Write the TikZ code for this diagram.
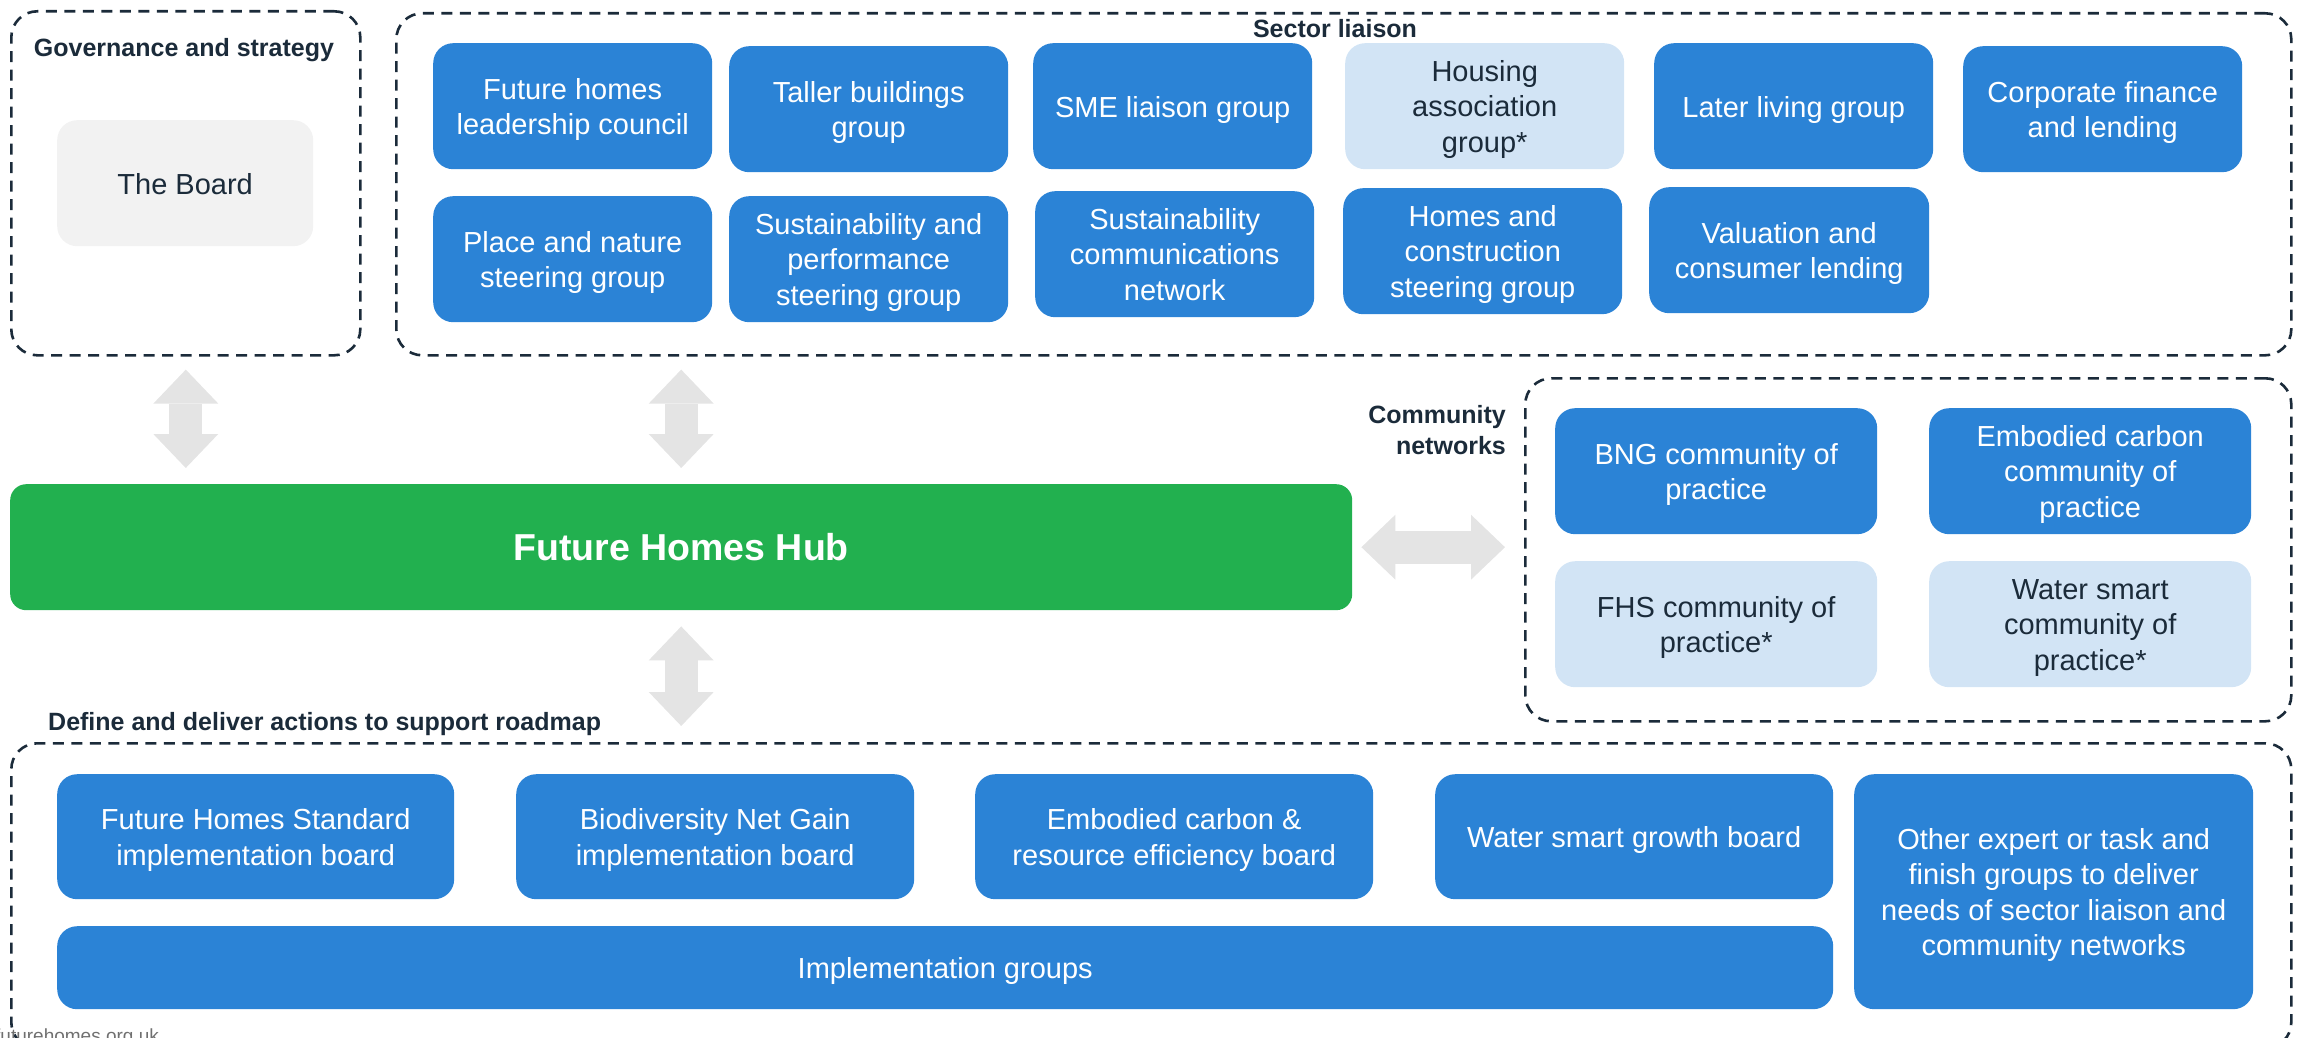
\documentclass[tikz,border=0pt]{standalone}
\usepackage{fontspec}
\setmainfont{Liberation Sans}
\usetikzlibrary{arrows.meta,calc}
\definecolor{fhblue}{HTML}{2B83D6}
\definecolor{fhlight}{HTML}{D2E4F5}
\definecolor{fhgreen}{HTML}{22B04F}
\definecolor{fhdark}{HTML}{1B2B3A}
\definecolor{fhgrey}{HTML}{F2F2F2}
\definecolor{fharrow}{HTML}{E4E4E4}
\definecolor{fhurl}{HTML}{707070}
% invisible strut that sets the height of the first text line
\newcommand\fhup{\rule{0pt}{28.5pt}}
\begin{document}
\begin{tikzpicture}[x=1pt,y=-1pt,
 grp/.style={draw=fhdark, line width=2.6pt, dash pattern=on 11pt off 7.5pt, rounded corners=26pt, anchor=north west, inner sep=0pt},
 card/.style={fill=fhblue, text=white, rounded corners=20pt, anchor=north west, inner sep=0pt, align=center, font=\fontsize{29}{35.5}\selectfont, minimum width=279pt, minimum height=126pt,
   execute at begin node={\rule{0pt}{29.5pt}}, execute at end node={\rule[-7pt]{0pt}{7pt}}},
 lcard/.style={card, fill=fhlight, text=fhdark},
 ccard/.style={card, minimum width=322pt},
 lccard/.style={lcard, minimum width=322pt},
 dcard/.style={card, minimum width=398pt, minimum height=125pt},
 ttl/.style={font=\bfseries\fontsize{25}{31}\selectfont, text=fhdark, inner sep=0pt},
 bigarrow/.style={draw=fharrow, line width=33pt, {Triangle[length=34pt,width=65pt,line width=0pt]}-{Triangle[length=34pt,width=65pt,line width=0pt]}}
]
\useasboundingbox (0,0) rectangle (2303,1038);

% group frames
\node[grp, minimum width=349pt, minimum height=344pt] (gov) at (10,10) {};
\node[grp, minimum width=1895pt, minimum height=342pt] (sector) at (395,12) {};
\node[grp, minimum width=766pt, minimum height=343pt] (comm) at (1524,377) {};
\node[grp, minimum width=2280pt, minimum height=305pt] (deliver) at (10,742) {};

% titles
\node[ttl, anchor=base] (tgov) at (184,57) {Governance and strategy};
\node[ttl, anchor=base] (tsec) at (1335,38) {Sector liaison};
\node[ttl, anchor=north east, align=right] (tcom) at (1506,405) {Community\\networks};
\node[ttl, anchor=base west] (tdel) at (48,730) {Define and deliver actions to support roadmap};

% governance
\node[card, fill=fhgrey, text=fhdark, minimum width=256pt] (board) at (57,120) {The Board};

% sector liaison
\node[card] (s1) at (433,43) {\fhup Future homes\\leadership council};
\node[card] (s2) at (729,46) {\fhup Taller buildings\\group};
\node[card] (s3) at (1033,43) {SME liaison group};
\node[lcard] (s4) at (1345,43) {\fhup Housing\\association\\group*};
\node[card] (s5) at (1654,43) {Later living group};
\node[card] (s6) at (1963,46) {\fhup Corporate finance\\and lending};
\node[card] (s7) at (433,196) {\fhup Place and nature\\steering group};
\node[card] (s8) at (729,196) {\fhup Sustainability and\\performance\\steering group};
\node[card] (s9) at (1035,191) {\fhup Sustainability\\communications\\network};
\node[card] (s10) at (1343,188) {\fhup Homes and\\construction\\steering group};
\node[card, minimum width=280pt] (s11) at (1649,187) {\fhup Valuation and\\consumer lending};

% hub
\node[fill=fhgreen, text=white, rounded corners=16pt, anchor=north west, inner sep=0pt, minimum width=1342pt, minimum height=126pt, font=\bfseries\fontsize{37.5}{45}\selectfont] (hub) at (10,484) {Future Homes Hub};

% community networks
\node[ccard] (c1) at (1555,408) {\fhup BNG community of\\practice};
\node[ccard] (c2) at (1929,408) {\fhup Embodied carbon\\community of\\practice};
\node[lccard] (c3) at (1555,561) {\fhup FHS community of\\practice*};
\node[lccard] (c4) at (1929,561) {\fhup Water smart\\community of\\practice*};

% define and deliver
\node[dcard, minimum width=397pt] (d1) at (57,774) {\fhup Future Homes Standard\\implementation board};
\node[dcard] (d2) at (516,774) {\fhup Biodiversity Net Gain\\implementation board};
\node[dcard] (d3) at (975,774) {\fhup Embodied carbon \&\\resource efficiency board};
\node[dcard] (d4) at (1435,774) {Water smart growth board};
\node[dcard, minimum width=399pt, minimum height=235pt] (d5) at (1854,774) {\fhup Other expert or task and\\finish groups to deliver\\needs of sector liaison and\\community networks};
\node[card, minimum width=1776pt, minimum height=83pt] (d6) at (57,926) {Implementation groups};

% arrows
\draw[bigarrow, shorten <=13pt, shorten >=16pt] (gov.south) -- (gov.south |- hub.north);
\draw[bigarrow, shorten <=13pt, shorten >=16pt] (hub.north |- sector.south) -- (hub.north);
\draw[bigarrow, shorten <=16pt, shorten >=16pt] (hub.south) -- (hub.south |- deliver.north);
\draw[bigarrow, shorten <=9pt, shorten >=19pt] (hub.east) -- (hub.east -| comm.west);

% footer url (cut by page edge, as in the reference)
\node[anchor=base west, inner sep=0pt, text=fhurl, font=\fontsize{19}{22}\selectfont] (url) at (-5,1042) {futurehomes.org.uk};
\end{tikzpicture}
\end{document}
